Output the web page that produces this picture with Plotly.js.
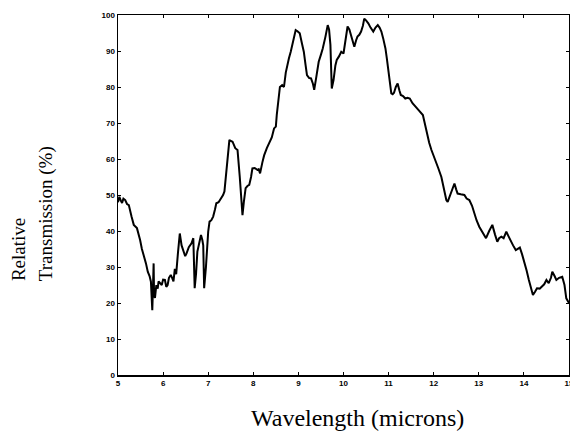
<!DOCTYPE html>
<html>
<head>
<meta charset="utf-8">
<script src="https://cdn.plot.ly/plotly-3.0.1.min.js"></script>
<style>html,body{margin:0;padding:0;background:#fff;}#chart{width:570px;height:442px;}</style>
</head>
<body>
<div id="chart"></div>
<script>
var wavelength = [5.00,5.03,5.06,5.09,5.12,5.16,5.20,5.24,5.30,5.35,5.42,5.46,5.49,5.53,5.57,5.62,5.66,5.70,5.73,5.745,5.76,5.775,5.79,5.80,5.82,5.85,5.88,5.90,5.94,5.97,6.00,6.04,6.07,6.10,6.13,6.17,6.20,6.23,6.26,6.29,6.33,6.37,6.41,6.45,6.49,6.52,6.57,6.63,6.67,6.70,6.73,6.76,6.80,6.84,6.87,6.89,6.91,6.95,7.00,7.03,7.07,7.11,7.15,7.18,7.23,7.29,7.33,7.36,7.40,7.44,7.47,7.50,7.54,7.60,7.65,7.70,7.76,7.79,7.83,7.87,7.91,7.95,7.98,8.03,8.09,8.12,8.15,8.20,8.24,8.30,8.35,8.41,8.46,8.50,8.52,8.56,8.59,8.64,8.68,8.72,8.75,8.79,8.83,8.89,8.94,8.98,9.03,9.08,9.12,9.16,9.19,9.24,9.28,9.32,9.35,9.40,9.45,9.50,9.54,9.60,9.65,9.68,9.71,9.74,9.78,9.82,9.85,9.90,9.95,10.00,10.05,10.09,10.13,10.17,10.21,10.24,10.28,10.31,10.35,10.39,10.43,10.46,10.50,10.55,10.60,10.66,10.71,10.76,10.80,10.84,10.88,10.93,10.96,10.99,11.03,11.06,11.09,11.12,11.16,11.20,11.24,11.27,11.32,11.37,11.42,11.47,11.53,11.59,11.67,11.76,11.80,11.84,11.90,11.95,12.00,12.03,12.10,12.17,12.22,12.28,12.31,12.35,12.41,12.46,12.50,12.53,12.60,12.68,12.73,12.79,12.85,12.90,12.95,13.01,13.08,13.16,13.23,13.30,13.36,13.41,13.45,13.50,13.55,13.61,13.66,13.71,13.76,13.82,13.87,13.91,13.96,14.02,14.06,14.11,14.15,14.20,14.25,14.29,14.35,14.40,14.45,14.50,14.55,14.60,14.63,14.68,14.72,14.78,14.85,14.90,14.94,15.00];
var transmission = [48,49.5,48.5,47.8,49,48.6,47.5,47.2,44,41.7,40.8,39,37.5,35,33.3,31,28.7,27.5,25.9,22,18,24,31,22,21.4,25,24,26,25.5,25,26.5,26.4,24.5,25,27,27.8,27,26,29.5,28,34,39.3,36,34.7,33,33.8,35.5,36.6,38,24.1,28,34.3,37,38.9,37.5,36,24.1,30,39.8,42.6,43,44,46,47.7,48,49,50,51,57,62,65.3,65,64.8,63,62.5,55,44.4,48,51.9,52.5,52.8,55,57.4,57.5,57,57.2,56,59,61,63,64.4,66,68.5,69,72.2,76,80,80.5,80,84,86,88,89.8,93,95.8,95.5,94.9,92,89.8,86,83.3,82.5,82.4,81,79.2,83,87,89,90.7,94,97.2,96,91.7,79.6,82,86,87.5,88.5,89.8,89.3,93,96.8,96,94,92,91.2,93,94,94.5,95.4,97,99,98.5,97.7,96.5,95.4,96.5,97.2,96.5,95.4,93.5,90.7,88,84.7,81,78.2,78,78.4,80,81,79,77.8,77.5,76.8,77,76.8,75.5,74.5,73.5,72.2,70,67.1,64.5,62.5,61,59.7,57.5,55,52,48.6,48.1,49.5,51.5,53.2,51.5,50.4,50.2,50,49,48.6,47,44.9,43,41.2,39.5,38,40,41.7,39,37,38,38.4,38,39.8,38.5,37,36,34.7,35,35.4,33.5,31,29,26.4,24.5,22.2,23.2,24.1,24,24.5,25.2,26.4,25.5,27,28.7,27.5,26.4,27,27.3,25,21.3,20];
var xTicks = [5,6,7,8,9,10,11,12,13,14,15];
var yTicks = [0,10,20,30,40,50,60,70,80,90,100];
var xTitle = "Wavelength (microns)";
var yTitleLine1 = "Relative";
var yTitleLine2 = "Transmission (%)";

var tickFont = {family: "Liberation Sans, Arial, sans-serif", size: 8, color: "#000", weight: "bold"};
var titleFont = {family: "Liberation Serif, Times New Roman, serif", size: 19, color: "#000"};

var trace = {
  x: wavelength, y: transmission, type: "scatter", mode: "lines",
  line: {color: "#000", width: 2}, hoverinfo: "skip"
};

var layout = {
  width: 570, height: 442,
  margin: {l: 118, r: 1, t: 15, b: 67, pad: 0},
  paper_bgcolor: "#fff", plot_bgcolor: "#fff",
  showlegend: false,
  xaxis: {
    range: [5, 15], tickmode: "array", tickvals: xTicks, ticktext: xTicks.map(String),
    ticks: "inside", ticklen: 3, tickwidth: 1, tickcolor: "#000",
    showline: true, linecolor: "#000", linewidth: 1.5, mirror: "ticks",
    showgrid: false, zeroline: false, tickfont: tickFont, ticklabeloverflow: "allow"
  },
  yaxis: {
    range: [0, 100], tickmode: "array", tickvals: yTicks, ticktext: yTicks.map(String),
    ticks: "inside", ticklen: 3, tickwidth: 1, tickcolor: "#000",
    showline: true, linecolor: "#000", linewidth: 1.5, mirror: "ticks",
    showgrid: false, zeroline: false, tickfont: tickFont
  },
  annotations: [
    {text: yTitleLine1, xref: "paper", yref: "paper", x: -0.22, y: 0.256,
     xanchor: "center", yanchor: "bottom", textangle: -90, showarrow: false, font: titleFont},
    {text: yTitleLine2, xref: "paper", yref: "paper", x: -0.16, y: 0.256,
     xanchor: "center", yanchor: "bottom", textangle: -90, showarrow: false, font: titleFont},
    {text: xTitle, xref: "paper", yref: "paper", x: 0.53, y: -0.119,
     xanchor: "center", yanchor: "middle", showarrow: false,
     font: {family: "Liberation Serif, Times New Roman, serif", size: 24, color: "#000"}}
  ]
};

Plotly.newPlot("chart", [trace], layout, {displayModeBar: false, staticPlot: true});
</script>
</body>
</html>
